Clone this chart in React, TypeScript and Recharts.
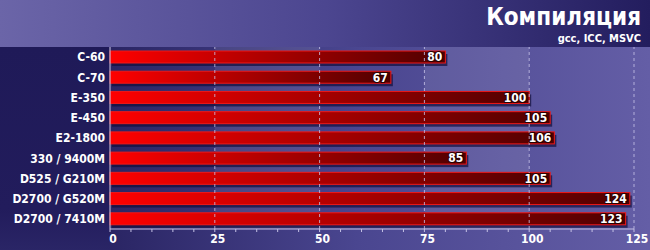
import { BarChart, Bar, XAxis, YAxis, ReferenceLine, ReferenceArea, LabelList } from 'recharts';

const models = [
  'C-60',
  'C-70',
  'E-350',
  'E-450',
  'E2-1800',
  '330 / 9400M',
  'D525 / G210M',
  'D2700 / G520M',
  'D2700 / 7410M',
];
const scores = [80, 67, 100, 105, 106, 85, 105, 124, 123];
const majorTicks = [0, 25, 50, 75, 100, 125];
const minorTicks = [
  0, 5, 10, 15, 20, 25, 30, 35, 40, 45, 50, 55, 60, 65, 70, 75, 80, 85, 90, 95, 100, 105, 110, 115,
  120, 125,
];
// lighter background bands
const bands = [
  [25, 50],
  [75, 100],
];

const FONT = '"DejaVu Sans Condensed", "DejaVu Sans", sans-serif';

const chartData = models.map((name, i) => ({ name, score: scores[i] }));

const BarShape = (props: any) => {
  const { x, y, width, height } = props;
  if (width <= 0) return null;
  return (
    <g>
      <rect x={x + 2} y={y + 3} width={width} height={height} fill="#120e3c" opacity={0.7} />
      <rect
        x={x}
        y={y}
        width={width}
        height={height}
        fill="url(#barGrad)"
        stroke="#f01818"
        strokeWidth={1}
      />
    </g>
  );
};

const ValueLabel = (props: any) => {
  const { x, y, width, height, value } = props;
  return (
    <text
      x={x + width - 3}
      y={y + height / 2}
      dy="0.36em"
      textAnchor="end"
      fill="#ffffff"
      stroke="#2a0000"
      strokeWidth={2}
      paintOrder="stroke"
      fontFamily={FONT}
      fontWeight="bold"
      fontSize={12}
    >
      {value}
    </text>
  );
};

const XTick = (props: any) => {
  const { x, y, payload } = props;
  if (!majorTicks.includes(payload.value)) return null;
  return (
    <text
      x={x + 3}
      y={y}
      dy="0.71em"
      textAnchor="middle"
      fill="#ffffff"
      fontFamily={FONT}
      fontWeight="bold"
      fontSize={12}
    >
      {payload.value}
    </text>
  );
};

const YTick = (props: any) => {
  const { x, y, payload } = props;
  return (
    <text
      x={x}
      y={y}
      dy="0.36em"
      textAnchor="end"
      fill="#ffffff"
      fontFamily={FONT}
      fontWeight="bold"
      fontSize={12}
    >
      {payload.value}
    </text>
  );
};

export default function App() {
  return (
    <div
      style={{
        position: 'absolute',
        left: 0,
        top: 0,
        width: 650,
        height: 250,
        overflow: 'hidden',
        background: 'linear-gradient(to right, #2a2564 0%, #2a2564 17%, #4a4690 55%, #645ea6 100%)',
      }}
    >
      {/* header strip */}
      <div
        style={{
          position: 'absolute',
          left: 0,
          top: 0,
          width: 650,
          height: 47,
          background: 'linear-gradient(to right, #6b65a8 0%, #4c4690 50%, #231d5e 100%)',
        }}
      />
      {/* label column */}
      <div
        style={{
          position: 'absolute',
          left: 0,
          top: 47,
          width: 110,
          height: 203,
          background: 'linear-gradient(to bottom, #1f1a58 0%, #221c5c 80%, #2a2566 100%)',
        }}
      />
      <div
        style={{
          position: 'absolute',
          right: 9,
          top: 3,
          color: '#ffffff',
          fontFamily: FONT,
          fontWeight: 'bold',
          fontSize: 24,
          lineHeight: '29px',
          textAlign: 'right',
        }}
      >
        Компиляция
      </div>
      <div
        style={{
          position: 'absolute',
          right: 9,
          top: 32,
          color: '#ffffff',
          fontFamily: FONT,
          fontWeight: 'bold',
          fontSize: 11,
          lineHeight: '14px',
          textAlign: 'right',
        }}
      >
        gcc, ICC, MSVC
      </div>
      <div style={{ position: 'absolute', left: 0, top: 0 }}>
        <BarChart
          width={650}
          height={250}
          data={chartData}
          layout="vertical"
          margin={{ top: 47, right: 16, bottom: 0, left: 0 }}
          barSize={12}
        >
          <defs>
            <linearGradient id="barGrad" x1="0" y1="0" x2="1" y2="0">
              <stop offset="0%" stopColor="#ff0000" />
              <stop offset="6%" stopColor="#f40000" />
              <stop offset="100%" stopColor="#4e0000" />
            </linearGradient>
          </defs>
          {bands.map(([a, b]) => (
            <ReferenceArea key={a} x1={a} x2={b} fill="#ffffff" fillOpacity={0.09} stroke="none" />
          ))}
          <XAxis
            type="number"
            domain={[0, 125]}
            ticks={minorTicks}
            interval={0}
            height={21}
            tickSize={3}
            tickMargin={2}
            axisLine={{ stroke: '#c4c0e4', strokeWidth: 1 }}
            tickLine={{ stroke: '#c4c0e4' }}
            tick={<XTick />}
          />
          <YAxis
            type="category"
            dataKey="name"
            width={110}
            interval={0}
            tickLine={false}
            tickSize={0}
            tickMargin={5}
            axisLine={{ stroke: '#d0cce8', strokeWidth: 1 }}
            tick={<YTick />}
          />
          {majorTicks.slice(1).map((v) => (
            <ReferenceLine key={v} x={v} stroke="#c8c4e8" strokeDasharray="3 3" strokeOpacity={0.8} />
          ))}
          <Bar dataKey="score" shape={<BarShape />} isAnimationActive={false}>
            <LabelList dataKey="score" content={<ValueLabel />} />
          </Bar>
        </BarChart>
      </div>
    </div>
  );
}
